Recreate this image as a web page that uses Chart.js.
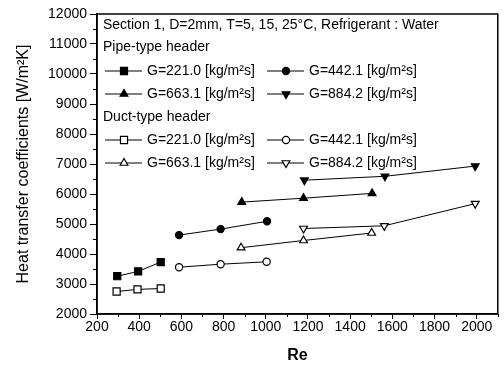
<!DOCTYPE html>
<html>
<head>
<meta charset="utf-8">
<script src="https://cdn.jsdelivr.net/npm/chart.js@4/dist/chart.umd.min.js"></script>
<style>
html, body { margin: 0; padding: 0; background: #fff; }
canvas { display: block; }
</style>
</head>
<body>
<canvas id="chart" width="504" height="374"></canvas>
<script>
// values (Re, h in W/m2K)
const pipeRe221 = [296, 395, 502];
const pipeH221 = [3260, 3420, 3730];
const pipeRe442 = [589, 786, 1006];
const pipeH442 = [4630, 4830, 5090];
const pipeRe663 = [886, 1179, 1504];
const pipeH663 = [5730, 5860, 6020];
const pipeRe884 = [1183, 1565, 1993];
const pipeH884 = [6460, 6590, 6930];

const ductRe221 = [293, 392, 502];
const ductH221 = [2750, 2820, 2850];
const ductRe442 = [589, 786, 1004];
const ductH442 = [3560, 3660, 3740];
const ductRe663 = [883, 1179, 1502];
const ductH663 = [4210, 4450, 4700];
const ductRe884 = [1179, 1562, 1993];
const ductH884 = [4850, 4940, 5680];

const seriesLabels = ['G=221.0 [kg/m\u00b2s]', 'G=442.1 [kg/m\u00b2s]', 'G=663.1 [kg/m\u00b2s]', 'G=884.2 [kg/m\u00b2s]'];
const headerText = 'Section 1, D=2mm, T=5, 15, 25\u00b0C, Refrigerant : Water';
const pipeHeader = 'Pipe-type header';
const ductHeader = 'Duct-type header';

const FONT = '"Liberation Sans", Arial, sans-serif';

function pts(re, h) {
    return re.map((r, i) => ({x: r, y: h[i]}));
}

const styles = [
    {pointStyle: 'rect', rotation: 0, radius: 5},
    {pointStyle: 'circle', rotation: 0, radius: 3.6},
    {pointStyle: 'triangle', rotation: 0, radius: 4.5},
    {pointStyle: 'triangle', rotation: 180, radius: 4.5},
];

function makeSet(label, data, idx, filled, group) {
    return {
        label: label,
        data: data,
        group: group,
        showLine: true,
        borderColor: '#000',
        borderWidth: 1,
        backgroundColor: filled ? '#000' : '#fff',
        pointBackgroundColor: filled ? '#000' : '#fff',
        pointBorderColor: '#000',
        pointBorderWidth: 1.2,
        pointRadius: styles[idx].radius,
        pointStyle: styles[idx].pointStyle,
        rotation: styles[idx].rotation,
    };
}

const datasets = [
    makeSet(seriesLabels[0], pts(pipeRe221, pipeH221), 0, true, 'pipe'),
    makeSet(seriesLabels[1], pts(pipeRe442, pipeH442), 1, true, 'pipe'),
    makeSet(seriesLabels[2], pts(pipeRe663, pipeH663), 2, true, 'pipe'),
    makeSet(seriesLabels[3], pts(pipeRe884, pipeH884), 3, true, 'pipe'),
    makeSet(seriesLabels[0], pts(ductRe221, ductH221), 0, false, 'duct'),
    makeSet(seriesLabels[1], pts(ductRe442, ductH442), 1, false, 'duct'),
    makeSet(seriesLabels[2], pts(ductRe663, ductH663), 2, false, 'duct'),
    makeSet(seriesLabels[3], pts(ductRe884, ductH884), 3, false, 'duct'),
];

// frame, minor ticks and the boxed legend
const decorPlugin = {
    id: 'decor',
    afterDraw(chart) {
        const ctx = chart.ctx;
        const area = chart.chartArea;
        const xs = chart.scales.x, ys = chart.scales.y;
        ctx.save();
        ctx.strokeStyle = '#000';
        ctx.lineWidth = 1.5;
        ctx.strokeRect(area.left, area.top, area.right - area.left, area.bottom - area.top);

        ctx.lineWidth = 1;
        ctx.beginPath();
        for (let v = 300; v <= 2100; v += 200) {
            const px = Math.round(xs.getPixelForValue(v)) + 0.5;
            ctx.moveTo(px, area.bottom);
            ctx.lineTo(px, area.bottom + 3);
        }
        for (let v = 2500; v < 12000; v += 1000) {
            const py = Math.round(ys.getPixelForValue(v)) + 0.5;
            ctx.moveTo(area.left, py);
            ctx.lineTo(area.left - 4, py);
        }
        ctx.stroke();

        ctx.fillStyle = '#000';
        ctx.font = '14px ' + FONT;
        ctx.textBaseline = 'middle';
        ctx.textAlign = 'left';
        ctx.fillText(headerText, 103, 25);
        ctx.fillText(pipeHeader, 103, 47);
        ctx.fillText(ductHeader, 103, 117);

        chart.data.datasets.forEach((ds, i) => {
            const k = i % 4;
            const col = k % 2, row = Math.floor(k / 2);
            const y = (ds.group === 'pipe' ? 71 : 140) + row * 23;
            const x0 = col ? 267 : 105;
            ctx.strokeStyle = '#000';
            ctx.lineWidth = 1;
            ctx.beginPath();
            ctx.moveTo(x0, y);
            ctx.lineTo(x0 + 37, y);
            ctx.stroke();
            ctx.fillStyle = ds.pointBackgroundColor;
            ctx.lineWidth = 1.2;
            Chart.helpers.drawPoint(ctx, {
                pointStyle: ds.pointStyle,
                rotation: ds.rotation,
                radius: ds.pointRadius,
                borderWidth: 1.2
            }, x0 + 19, y);
            ctx.fillStyle = '#000';
            ctx.fillText(ds.label, x0 + 42, y);
        });
        ctx.restore();
    }
};

new Chart(document.getElementById('chart'), {
    type: 'scatter',
    data: {datasets: datasets},
    plugins: [decorPlugin],
    options: {
        responsive: false,
        animation: false,
        devicePixelRatio: 1,
        layout: {padding: {top: 14, right: 6, left: 0, bottom: 0}},
        plugins: {
            legend: {display: false},
            tooltip: {enabled: false}
        },
        scales: {
            x: {
                type: 'linear',
                min: 200,
                max: 2100,
                afterFit: (s) => { s.height = 60; },
                grid: {drawOnChartArea: false, drawTicks: true, tickLength: 5, tickColor: '#000', tickWidth: 1},
                border: {display: true, color: '#000', width: 1.5},
                ticks: {stepSize: 200, includeBounds: false, padding: 0, color: '#000', font: {family: FONT, size: 14}, maxRotation: 0, callback: (v) => String(v)},
                title: {display: true, text: 'Re', color: '#000', font: {family: FONT, size: 16, weight: 'bold'}, padding: {top: 0, bottom: 9}}
            },
            y: {
                min: 2000,
                max: 12000,
                afterFit: (s) => { s.width = 97; },
                grid: {drawOnChartArea: false, drawTicks: true, tickLength: 7, tickColor: '#000', tickWidth: 1},
                border: {display: true, color: '#000', width: 1.5},
                ticks: {stepSize: 1000, padding: 3, color: '#000', font: {family: FONT, size: 14}, callback: (v) => String(v)},
                title: {display: true, text: 'Heat transfer coefficients [W/m\u00b2K]', color: '#000', font: {family: FONT, size: 16}, padding: {top: 14, bottom: 0}}
            }
        }
    }
});
</script>
</body>
</html>
